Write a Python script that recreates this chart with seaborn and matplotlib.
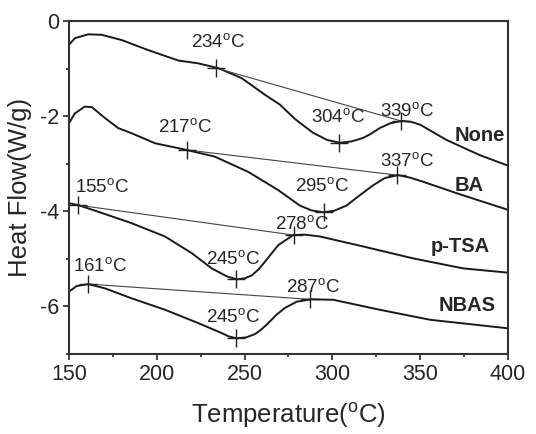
import numpy as np
import pandas as pd
import matplotlib
matplotlib.use("Agg")
import matplotlib.pyplot as plt
from matplotlib.ticker import MultipleLocator
import seaborn as sns

# DSC curves (temperature in degC, heat flow in W/g)
none_t = [150, 153.4, 161, 168.6, 180, 195, 212.2, 223.6, 235, 248.3, 261.6, 270.2, 278.7,
          289, 297, 304.3, 311, 317.4, 322, 327, 333, 339.5, 345, 350, 365, 384, 400]
none_hf = [-0.50, -0.36, -0.28, -0.29, -0.40, -0.61, -0.83, -0.89, -0.99, -1.20, -1.55, -1.76, -2.06,
           -2.35, -2.50, -2.56, -2.53, -2.46, -2.37, -2.25, -2.15, -2.10, -2.12, -2.18, -2.50, -2.82, -3.04]

ba_t = [150, 153.4, 159, 163, 170.5, 178, 185.7, 199, 217, 233, 252, 269, 281.5,
        288, 294.8, 301, 308, 315, 323.3, 330, 337.5, 344, 351.8, 370.8, 400]
ba_hf = [-2.15, -1.94, -1.80, -1.81, -2.04, -2.25, -2.36, -2.57, -2.71, -2.85, -3.17, -3.55, -3.88,
         -3.98, -4.02, -3.99, -3.88, -3.68, -3.45, -3.30, -3.24, -3.29, -3.38, -3.62, -3.97]

ptsa_t = [150, 155.3, 166.7, 185.7, 204.7, 219.9, 231.3, 240, 245.5, 250, 254, 258, 261.6, 269.2,
          277.7, 284, 293, 317.6, 346, 374.5, 400]
ptsa_hf = [-3.83, -3.87, -4.01, -4.25, -4.53, -4.88, -5.20, -5.37, -5.43, -5.41, -5.35, -5.22, -5.06, -4.71,
           -4.50, -4.49, -4.53, -4.74, -4.99, -5.20, -5.29]

nbas_t = [150, 154.4, 161, 170.5, 185.7, 204.7, 223.6, 237, 241, 245.5, 251, 256, 260, 263.5, 268,
          273, 279.7, 288, 300.5, 327, 355.6, 400]
nbas_hf = [-5.69, -5.57, -5.53, -5.62, -5.83, -6.07, -6.35, -6.56, -6.63, -6.67, -6.65, -6.58, -6.47,
           -6.35, -6.18, -6.03, -5.90, -5.85, -5.86, -6.07, -6.28, -6.46]

# characteristic temperatures (onset, peak, end) and their heat flow
samples = ["None", "BA", "p-TSA", "NBAS"]
char_t = {"None": [234, 304, 339], "BA": [217, 295, 337],
          "p-TSA": [155, 245, 278], "NBAS": [161, 245, 287]}
char_hf = {"None": [-0.99, -2.56, -2.10], "BA": [-2.71, -4.02, -3.24],
           "p-TSA": [-3.87, -5.43, -4.50], "NBAS": [-5.53, -6.67, -5.85]}

# label positions for the temperature annotations
ann_xy = {"None": [(235, -0.46), (303, -2.04), (342.5, -1.91)],
          "BA": [(216, -2.25), (294, -3.49), (342.5, -2.96)],
          "p-TSA": [(168.8, -3.51), (243.4, -5.02), (282.7, -4.29)],
          "NBAS": [(167.7, -5.17), (243.4, -6.24), (289, -5.61)]}
name_xy = {"None": (384, -2.40), "BA": (378, -3.45),
           "p-TSA": (372.7, -4.75), "NBAS": (377, -5.97)}

df = pd.concat([
    pd.DataFrame({"T": none_t, "HF": none_hf, "sample": "None"}),
    pd.DataFrame({"T": ba_t, "HF": ba_hf, "sample": "BA"}),
    pd.DataFrame({"T": ptsa_t, "HF": ptsa_hf, "sample": "p-TSA"}),
    pd.DataFrame({"T": nbas_t, "HF": nbas_hf, "sample": "NBAS"}),
])

sns.set_style("ticks")
plt.rcParams['font.family'] = ['Liberation Sans', 'DejaVu Sans']
plt.rcParams['mathtext.fontset'] = 'custom'
plt.rcParams['mathtext.rm'] = 'Liberation Sans'
plt.rcParams['axes.unicode_minus'] = False

fig = plt.figure(figsize=(5.36, 4.34), dpi=100)
ax = fig.add_axes([0.1287, 0.1843, 0.819, 0.7673])

sns.lineplot(data=df, x="T", y="HF", hue="sample", units="sample", estimator=None,
             palette={s: "#1a1a1a" for s in samples}, linewidth=1.4, sort=False,
             legend=False, ax=ax)

for s in samples:
    # baseline tangent from onset to end point
    ax.plot([char_t[s][0], char_t[s][2]], [char_hf[s][0], char_hf[s][2]],
            color="#444444", linewidth=0.8)
    ax.plot(char_t[s], char_hf[s], linestyle="none", marker="+", markersize=13,
            markeredgewidth=1.0, color="#222222")
    for t, (xx, yy) in zip(char_t[s], ann_xy[s]):
        ax.text(xx, yy, f"{t}" + r"$^\mathrm{o}$C", fontsize=13.5, ha="center", va="center")
    ax.text(name_xy[s][0], name_xy[s][1], s, fontsize=14.5, fontweight="bold",
            ha="center", va="center")

ax.set_xlim(150, 400)
ax.set_ylim(-7, 0)
ax.xaxis.set_major_locator(MultipleLocator(50))
ax.xaxis.set_minor_locator(MultipleLocator(25))
ax.yaxis.set_major_locator(MultipleLocator(2))
ax.yaxis.set_minor_locator(MultipleLocator(1))
ax.tick_params(which="major", direction="out", length=4, width=1.2, labelsize=15.5, pad=3)
ax.tick_params(which="minor", direction="out", length=2.5, width=1.2)
for sp in ax.spines.values():
    sp.set_linewidth(1.5)
    sp.set_color("#333333")

ax.set_xlabel(r"Temperature($^\mathrm{o}$C)", fontsize=18.5, labelpad=11)
ax.set_ylabel("Heat Flow(W/g)", fontsize=18.5, labelpad=6)

fig.savefig("out.png", dpi=100)
